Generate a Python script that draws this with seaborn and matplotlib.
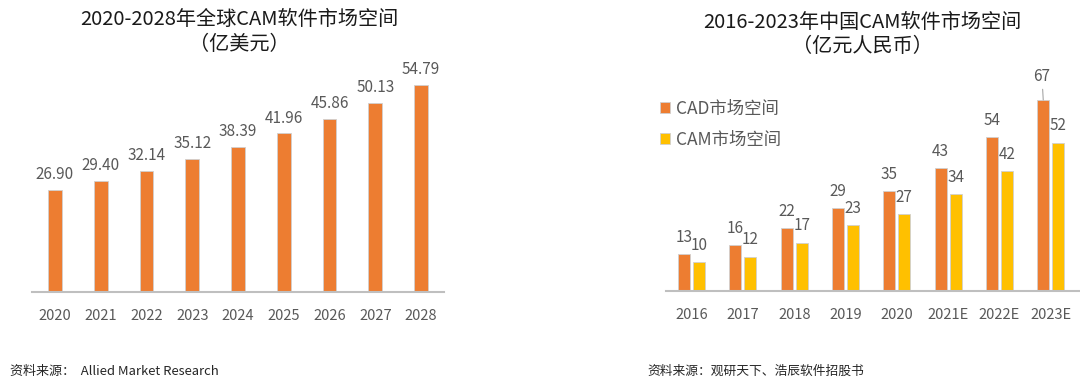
import matplotlib
matplotlib.use('Agg')
import matplotlib.pyplot as plt
import seaborn as sns
import pandas as pd

# ---- data ----
global_years = ['2020', '2021', '2022', '2023', '2024', '2025', '2026', '2027', '2028']
global_values = [26.90, 29.40, 32.14, 35.12, 38.39, 41.96, 45.86, 50.13, 54.79]

china_years = ['2016', '2017', '2018', '2019', '2020', '2021E', '2022E', '2023E']
cad_values = [13, 16, 22, 29, 35, 43, 54, 67]
cam_values = [10, 12, 17, 23, 27, 34, 42, 52]
series_names = ['CAD市场空间', 'CAM市场空间']

title_left = ['2020-2028年全球CAM软件市场空间', '（亿美元）']
title_right = ['2016-2023年中国CAM软件市场空间', '（亿元人民币）']
source_left = '资料来源：  Allied Market Research'
source_right = '资料来源：观研天下、浩辰软件招股书'

ORANGE = '#ED7D31'
YELLOW = '#FFC000'
GREY_TXT = '#595959'

sns.set_style('white')
plt.rcParams['font.family'] = ['Noto Sans CJK SC', 'DejaVu Sans']

W, H = 1080, 387
fig = plt.figure(figsize=(W / 100, H / 100), dpi=100)

# ---- left chart ----
ax1 = fig.add_axes([32 / W, 1 - 292 / H, 412 / W, 232 / H])
df1 = pd.DataFrame({'year': global_years, 'value': global_values})
sns.barplot(data=df1, x='year', y='value', color=ORANGE, width=0.30,
            edgecolor='#d0d0d0', linewidth=0.6, ax=ax1, saturation=1)
ax1.set_xlim(-0.5, len(global_years) - 0.5)
ax1.set_ylim(0, 61.4)
for bar, v in zip(ax1.patches, global_values):
    ax1.annotate(f'{v:.2f}', (bar.get_x() + bar.get_width() / 2, bar.get_height()),
                 xytext=(0, 5), textcoords='offset points', ha='center', va='bottom',
                 fontsize=11, color=GREY_TXT)

# ---- right chart ----
ax2 = fig.add_axes([666 / W, 1 - 291 / H, 414 / W, 231 / H])
df2 = pd.DataFrame({
    'year': china_years * 2,
    'series': [series_names[0]] * len(china_years) + [series_names[1]] * len(china_years),
    'value': cad_values + cam_values,
})
sns.barplot(data=df2, x='year', y='value', hue='series', hue_order=series_names,
            palette={series_names[0]: ORANGE, series_names[1]: YELLOW},
            width=0.585, gap=0.2, edgecolor='#d0d0d0', linewidth=0.6,
            ax=ax2, saturation=1)
ax2.set_xlim(-0.5, 7.57)
ax2.set_ylim(0, 81)
for cont, vals in zip(ax2.containers, [cad_values, cam_values]):
    for bar, v in zip(cont, vals):
        x = bar.get_x() + bar.get_width() / 2
        y = bar.get_height()
        if v == max(cad_values):
            ax2.annotate(f'{v}', (x, y), xytext=(-1, 11), textcoords='offset points',
                         ha='center', va='bottom', fontsize=11, color=GREY_TXT,
                         arrowprops=dict(arrowstyle='-', color='#a6a6a6', lw=0.8,
                                         shrinkA=1, shrinkB=0))
        else:
            ax2.annotate(f'{v}', (x, y), xytext=(0, 6), textcoords='offset points',
                         ha='center', va='bottom', fontsize=11, color=GREY_TXT)

handles, labels = ax2.get_legend_handles_labels()
ax2.legend(handles, labels, loc='upper left', bbox_to_anchor=(660 / W, 1 - 100 / H),
           bbox_transform=fig.transFigure, frameon=False, fontsize=12.5,
           handlelength=0.6, handleheight=0.6, handletextpad=0.35,
           labelspacing=0.75, borderpad=0, borderaxespad=0, labelcolor=GREY_TXT)

for ax in (ax1, ax2):
    for s in ('top', 'left', 'right'):
        ax.spines[s].set_visible(False)
    ax.spines['bottom'].set_color('#bfbfbf')
    ax.spines['bottom'].set_linewidth(1.5)
    ax.set_yticks([])
    ax.set_xlabel('')
    ax.set_ylabel('')
    ax.tick_params(axis='x', length=0, pad=12, labelsize=10.5, labelcolor=GREY_TXT)
    ax.patch.set_alpha(0)

# ---- titles ----
fig.text(239 / W, 1 - 19 / H, title_left[0], ha='center', va='center', fontsize=14.5, color='#1a1a1a')
fig.text(239 / W, 1 - 44 / H, title_left[1], ha='center', va='center', fontsize=14.5, color='#1a1a1a')
fig.text(862 / W, 1 - 22 / H, title_right[0], ha='center', va='center', fontsize=14.5, color='#1a1a1a')
fig.text(862 / W, 1 - 47 / H, title_right[1], ha='center', va='center', fontsize=14.5, color='#1a1a1a')

# ---- sources ----
fig.text(10 / W, 1 - 372 / H, source_left, ha='left', va='center', fontsize=9.4, color='#262626')
fig.text(647 / W, 1 - 371 / H, source_right, ha='left', va='center', fontsize=9.2, color='#262626')

fig.savefig('out.png', dpi=100)
